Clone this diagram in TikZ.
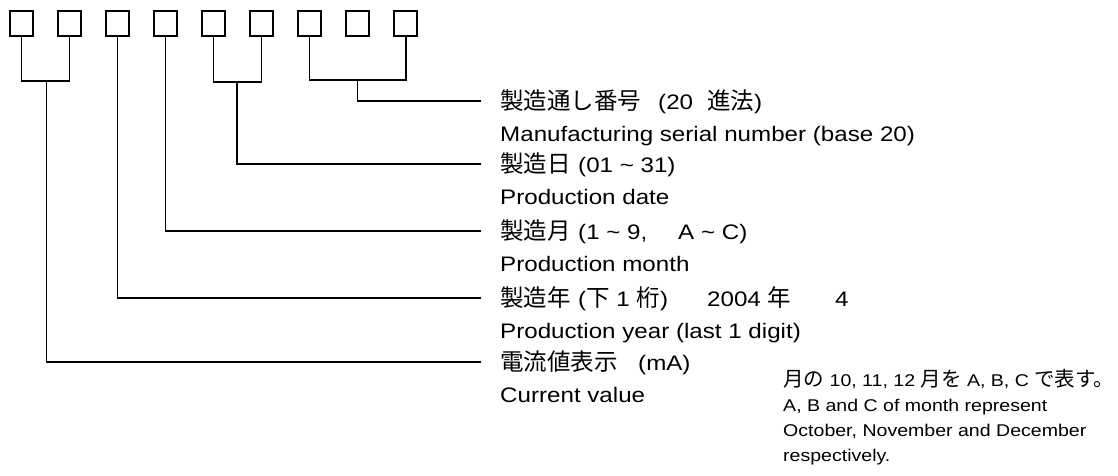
\documentclass[tikz,border=0pt]{standalone}
\usepackage{fontspec}
\setmainfont{Liberation Sans}[FakeStretch=1.15]
\newfontfamily\cjkfam{Noto Sans CJK JP}
\newcommand\jpm[1]{{\cjkfam\fontsize{23.5}{25}\selectfont #1}}
\newcommand\jpn[1]{{\cjkfam\fontsize{20.5}{22}\selectfont #1}}
\newcommand\at[2]{\makebox[#1pt][l]{#2}}
\begin{document}
\begin{tikzpicture}[x=1pt,y=-1pt,
  digit/.style={draw,line width=2pt,minimum width=23pt,minimum height=25pt,inner sep=0pt},
  conn/.style={line width=1.2pt},
  lbl/.style={anchor=base west,inner sep=0pt,font=\fontsize{21}{25}\selectfont},
  notetext/.style={anchor=base west,inner sep=0pt,font=\fontsize{17}{20}\selectfont}]
\useasboundingbox (0,0) rectangle (1118,475);
% digit boxes
\foreach \i in {1,...,9}
  \node[digit] (b\i) at ({21.5+48.05*(\i-1)},23.5) {};
% junctions and line ends
\coordinate (j12) at (46.5,81);
\coordinate (j56) at (237,82);
\coordinate (j79) at (357.5,80);
\coordinate (e1) at (481,101);
\coordinate (e2) at (481,164);
\coordinate (e3) at (481,231);
\coordinate (e4) at (481,298);
\coordinate (e5) at (481,362);
% connectors
\draw[conn] (b1.south) |- (j12) -| (b2.south);
\draw[conn] (j12) |- (e5);
\draw[conn] (b3.south) |- (e4);
\draw[conn] (b4.south) |- (e3);
\draw[conn] (b5.south) |- (j56) -| (b6.south);
\draw[conn] (j56) |- (e2);
\draw[conn] (b7.south) |- (j79) -| (b9.south);
\draw[conn] (j79) |- (e1);
% labels
\node[lbl] (jp1) at (500,109) {\at{158}{\jpm{製造通し番号}}\at{49}{(20}\jpm{進法})};
\node[lbl] (en1) at (500,141) {Manufacturing serial number (base 20)};
\node[lbl] (jp2) at (500,172) {\at{78}{\jpm{製造日}}(01 \textasciitilde{} 31)};
\node[lbl] (en2) at (500,204) {Production date};
\node[lbl] (jp3) at (500,239) {\at{78}{\jpm{製造月}}\at{100}{(1 \textasciitilde{} 9,}A \textasciitilde{} C)};
\node[lbl] (en3) at (500,271) {Production month};
\node[lbl] (jp4) at (500,306) {\at{78}{\jpm{製造年}}\at{129}{(\jpm{下} 1 \jpm{桁})}\at{128}{2004 \jpm{年}}4};
\node[lbl] (en4) at (500,338) {Production year (last 1 digit)};
\node[lbl] (jp5) at (500,370) {\at{138}{\jpm{電流値表示}}(mA)};
\node[lbl] (en5) at (500,402) {Current value};
% note
\node[notetext] (n1) at (783,386) {\jpn{月の} 10, 11, 12 \jpn{月を} A, B, C \jpn{で表す。}};
\node[notetext] (n2) at (783,411.5) {A, B and C of month represent};
\node[notetext] (n3) at (783,436.5) {October, November and December};
\node[notetext] (n4) at (783,461.5) {respectively.};
\end{tikzpicture}
\end{document}
